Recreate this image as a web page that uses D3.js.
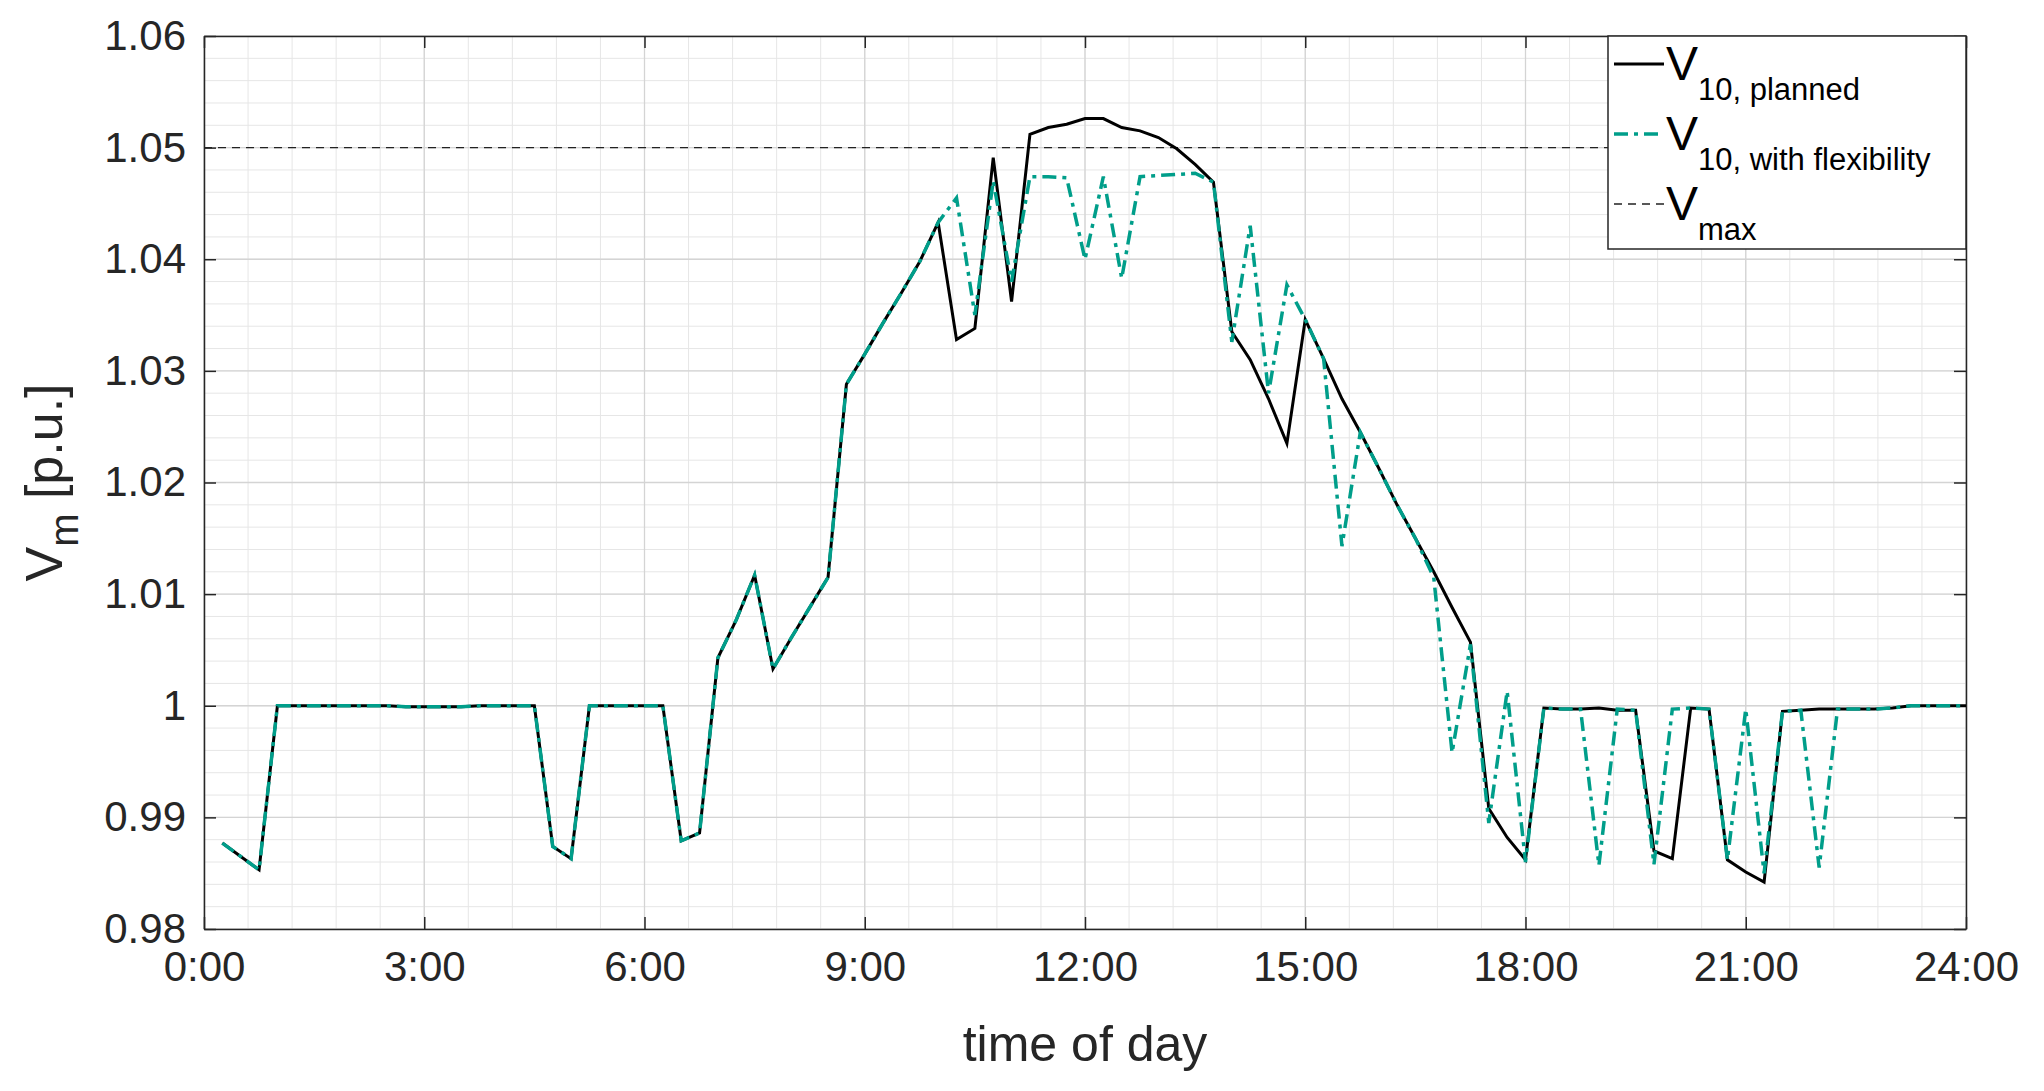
<!DOCTYPE html>
<html><head><meta charset="utf-8">
<script src="https://cdn.jsdelivr.net/npm/d3@7"></script>
<style>body{margin:0;background:#fff}svg{font-family:"Liberation Sans",Arial,sans-serif}</style>
</head><body><div id="chart"></div>
<script>
// time in hours, every 15 min from 0:15
var hours = d3.range(1, 97).map(function(k){ return k / 4; });
var planned = [
 0.9877,0.9865,0.9853,1.0000,1.0000,1.0000,1.0000,1.0000,1.0000,1.0000,0.9999,0.9999,
 0.9999,0.9999,1.0000,1.0000,1.0000,1.0000,0.9874,0.9863,1.0000,1.0000,1.0000,1.0000,
 1.0000,0.9879,0.9886,1.0043,1.0077,1.0117,1.0033,1.0061,1.0088,1.0115,1.0288,1.0315,
 1.0343,1.0370,1.0398,1.0433,1.0328,1.0338,1.0491,1.0362,1.0512,1.0518,1.0521,1.0526,
 1.0526,1.0518,1.0515,1.0509,1.0499,1.0485,1.0469,1.0335,1.0310,1.0275,1.0235,1.0346,
 1.0311,1.0275,1.0245,1.0213,1.0180,1.0150,1.0120,1.0088,1.0057,0.9908,0.9882,0.9862,
 0.9998,0.9997,0.9997,0.9998,0.9996,0.9996,0.9870,0.9863,0.9998,0.9997,0.9862,0.9851,
 0.9842,0.9995,0.9996,0.9997,0.9997,0.9997,0.9997,0.9998,1.0000,1.0000,1.0000,1.0000
];
var flexible = [
 0.9877,0.9865,0.9853,1.0000,1.0000,1.0000,1.0000,1.0000,1.0000,1.0000,0.9999,0.9999,
 0.9999,0.9999,1.0000,1.0000,1.0000,1.0000,0.9874,0.9863,1.0000,1.0000,1.0000,1.0000,
 1.0000,0.9879,0.9886,1.0043,1.0077,1.0117,1.0033,1.0061,1.0088,1.0115,1.0288,1.0315,
 1.0343,1.0370,1.0398,1.0433,1.0455,1.0350,1.0470,1.0380,1.0474,1.0474,1.0473,1.0400,
 1.0474,1.0383,1.0474,1.0475,1.0476,1.0477,1.0469,1.0326,1.0430,1.0280,1.0377,1.0346,
 1.0311,1.0143,1.0245,1.0213,1.0180,1.0150,1.0115,0.9958,1.0055,0.9895,1.0013,0.9860,
 0.9998,0.9997,0.9997,0.9857,0.9997,0.9996,0.9858,0.9997,0.9998,0.9997,0.9862,0.9997,
 0.9850,0.9995,0.9996,0.9855,0.9997,0.9997,0.9997,0.9998,1.0000,1.0000,1.0000,1.0000
];
var vMax = 1.05;
var xTicks = [0,3,6,9,12,15,18,21,24];
var yTicks = [0.98,0.99,1.0,1.01,1.02,1.03,1.04,1.05,1.06];

var margin = {top: 36, right: 78, bottom: 162, left: 204};
var W = 2044, H = 1091;
var width = W - margin.left - margin.right, height = H - margin.top - margin.bottom;

var svg = d3.select("#chart").append("svg").attr("width", W).attr("height", H)
  .append("g").attr("transform", "translate(" + margin.left + "," + margin.top + ")");

var x = d3.scaleLinear().domain([0, 24]).range([0, width]);
var y = d3.scaleLinear().domain([0.98, 1.06]).range([height, 0]);

// minor grid
svg.append("g").selectAll("line").data(d3.range(0, 24.01, 0.6)).enter().append("line")
  .attr("x1", function(d){ return x(d); }).attr("x2", function(d){ return x(d); })
  .attr("y1", 0).attr("y2", height).style("stroke", "#e6e6e6").style("stroke-width", 1);
svg.append("g").selectAll("line").data(d3.range(0, 41).map(function(k){ return 0.98 + k*0.002; })).enter().append("line")
  .attr("y1", function(d){ return y(d); }).attr("y2", function(d){ return y(d); })
  .attr("x1", 0).attr("x2", width).style("stroke", "#e6e6e6").style("stroke-width", 1);
// major grid
svg.append("g").selectAll("line").data(xTicks).enter().append("line")
  .attr("x1", function(d){ return x(d); }).attr("x2", function(d){ return x(d); })
  .attr("y1", 0).attr("y2", height).style("stroke", "#d4d4d4").style("stroke-width", 1.3);
svg.append("g").selectAll("line").data(yTicks).enter().append("line")
  .attr("y1", function(d){ return y(d); }).attr("y2", function(d){ return y(d); })
  .attr("x1", 0).attr("x2", width).style("stroke", "#d4d4d4").style("stroke-width", 1.3);

// axes
var fmtX = function(d){ return d + ":00"; };
var fmtY = function(d){ return d === 1 ? "1" : d3.format(".2f")(d); };
function styleAxis(g){
  g.selectAll("path").style("stroke", "#262626").style("stroke-width", 1.5);
  g.selectAll("line").style("stroke", "#262626").style("stroke-width", 1.5);
  g.selectAll("text").style("font-size", "42px").style("fill", "#262626");
}
svg.append("g").attr("transform", "translate(0," + height + ")")
  .call(d3.axisBottom(x).tickValues(xTicks).tickFormat(fmtX).tickSizeInner(-12).tickSizeOuter(0).tickPadding(22))
  .call(styleAxis);
svg.append("g").call(d3.axisTop(x).tickValues(xTicks).tickFormat("").tickSizeInner(-12).tickSizeOuter(0)).call(styleAxis);
svg.append("g").call(d3.axisLeft(y).tickValues(yTicks).tickFormat(fmtY).tickSizeInner(-12).tickSizeOuter(0).tickPadding(18))
  .call(styleAxis);
svg.append("g").attr("transform", "translate(" + width + ",0)")
  .call(d3.axisRight(y).tickValues(yTicks).tickFormat("").tickSizeInner(-12).tickSizeOuter(0)).call(styleAxis);

// axis labels
svg.append("text").attr("x", width/2).attr("y", height + 132).attr("text-anchor", "middle")
  .style("font-size", "50px").style("fill", "#262626").text("time of day");
var yl = svg.append("text").attr("transform", "translate(-142," + (height/2) + ") rotate(-90)")
  .attr("text-anchor", "middle").style("font-size", "52px").style("fill", "#262626");
yl.append("tspan").text("V");
yl.append("tspan").attr("dy", 16).style("font-size", "40px").text("m");
yl.append("tspan").attr("dy", -16).text(" [p.u.]");

// lines
svg.append("line").attr("x1", x(0)).attr("x2", x(24)).attr("y1", y(vMax)).attr("y2", y(vMax))
  .style("stroke", "#222").style("stroke-width", 1.3).style("stroke-dasharray", "8,6");
var line = d3.line().x(function(d, k){ return x(hours[k]); }).y(function(d){ return y(d); });
svg.append("path").datum(planned).attr("d", line).style("fill", "none")
  .style("stroke", "#000").style("stroke-width", 3);
svg.append("path").datum(flexible).attr("d", line).style("fill", "none")
  .style("stroke", "#009e8a").style("stroke-width", 3.5).style("stroke-dasharray", "14,6,4,6");

// legend
var lg = svg.append("g").attr("transform", "translate(" + (width - 358) + ",0)");
lg.append("rect").attr("width", 358).attr("height", 213).style("fill", "#fff").style("stroke", "#262626").style("stroke-width", 1.5);
var items = [
  {sub: "10, planned", color: "#000", dash: null, w: 3},
  {sub: "10, with flexibility", color: "#009e8a", dash: "14,6,4,6", w: 3.5},
  {sub: "max", color: "#222", dash: "8,6", w: 1.3}
];
items.forEach(function(it, k){
  var cy = 28 + k * 70;
  lg.append("line").attr("x1", 6).attr("x2", 56).attr("y1", cy).attr("y2", cy)
    .style("stroke", it.color).style("stroke-width", it.w).style("stroke-dasharray", it.dash);
  var t = lg.append("text").attr("x", 58).attr("y", cy + 16).style("fill", "#000");
  t.append("tspan").style("font-size", "48px").text("V");
  t.append("tspan").attr("dy", 20).style("font-size", "31px").text(it.sub);
});
</script></body></html>
